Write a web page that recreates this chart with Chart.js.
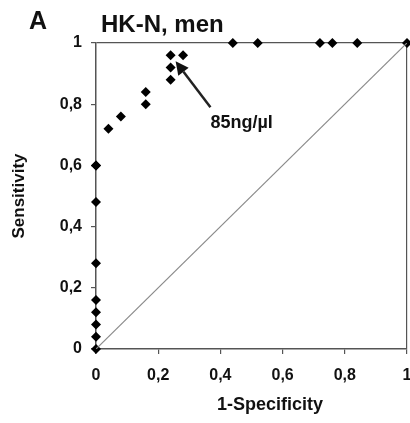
<!DOCTYPE html>
<html>
<head>
<meta charset="utf-8">
<script src="https://cdn.jsdelivr.net/npm/chart.js@4/dist/chart.umd.min.js"></script>
<style>
  html,body{margin:0;padding:0;background:#fff;}
  #wrap{position:relative;width:410px;height:423px;}
</style>
</head>
<body>
<div id="wrap"><canvas id="roc" width="410" height="423"></canvas></div>
<script>
// ===== DATA =====
const fpr = [0, 0, 0, 0, 0, 0, 0, 0, 0, 0.04, 0.08, 0.16, 0.16, 0.24, 0.24, 0.24, 0.28, 0.44, 0.52, 0.72, 0.76, 0.84, 1];
const sens = [0, 0.04, 0.08, 0.12, 0.16, 0.28, 0.48, 0.60, 0.60, 0.72, 0.76, 0.80, 0.84, 0.88, 0.92, 0.96, 0.96, 1, 1, 1, 1, 1, 1];
const diagX = [0, 1];
const diagY = [0, 1];
const ticksXY = [0, 0.2, 0.4, 0.6, 0.8, 1];

const panelLabel = 'A';
const chartTitle = 'HK-N, men';
const xTitle = '1-Specificity';
const cutoffLabel = '85ng/µl';
// arrow in data units: tail -> head, label anchor
const arrowFrom = {x: 0.368, y: 0.79};
const arrowTo = {x: 0.256, y: 0.94};
const labelAt = {x: 0.368, y: 0.738};

const FONT = "'Liberation Sans', Arial, sans-serif";
const AXIS = '#555';

function fmt(v){
  return String(Math.round(v*10)/10).replace('.', ',');
}

// ===== EXTRA TEXT + ARROW =====
const extras = {
  id: 'extras',
  afterDraw(chart){
    const c = chart.ctx;
    const xs = chart.scales.x, ys = chart.scales.y;
    c.save();
    c.fillStyle = '#111';
    c.textBaseline = 'middle';
    c.textAlign = 'left';
    c.font = 'bold 25px ' + FONT;
    c.fillText(panelLabel, 29, 22);
    c.font = 'bold 24px ' + FONT;
    c.fillText(chartTitle, 101, 25);

    // x axis title (sits right of centre in the original)
    c.textAlign = 'center';
    c.font = 'bold 18px ' + FONT;
    c.fillText(xTitle, 270, 405);
    c.textAlign = 'left';

    // arrow
    const x1 = xs.getPixelForValue(arrowFrom.x), y1 = ys.getPixelForValue(arrowFrom.y);
    const x2 = xs.getPixelForValue(arrowTo.x), y2 = ys.getPixelForValue(arrowTo.y);
    const ang = Math.atan2(y2 - y1, x2 - x1);
    const hl = 13, hw = 6.5;
    const bx = x2 - hl*Math.cos(ang), by = y2 - hl*Math.sin(ang);
    c.strokeStyle = '#222';
    c.lineWidth = 2.5;
    c.beginPath(); c.moveTo(x1, y1); c.lineTo(bx, by); c.stroke();
    c.fillStyle = '#111';
    c.beginPath();
    c.moveTo(x2, y2);
    c.lineTo(bx + hw*Math.sin(ang), by - hw*Math.cos(ang));
    c.lineTo(bx - hw*Math.sin(ang), by + hw*Math.cos(ang));
    c.closePath(); c.fill();

    c.font = 'bold 18px ' + FONT;
    c.fillText(cutoffLabel, xs.getPixelForValue(labelAt.x), ys.getPixelForValue(labelAt.y));
    c.restore();
  }
};

// ===== CHART =====
const gridColor = c => (c.tick && c.tick.value === 1) ? AXIS : 'rgba(0,0,0,0)';

new Chart(document.getElementById('roc'), {
  type: 'scatter',
  data: {
    datasets: [
      {
        type: 'line',
        data: diagX.map((x, i) => ({x: x, y: diagY[i]})),
        borderColor: '#8a8a8a',
        borderWidth: 1.2,
        pointRadius: 0,
        fill: false
      },
      {
        data: fpr.map((x, i) => ({x: x, y: sens[i]})),
        pointStyle: 'rectRot',
        pointRadius: 5,
        backgroundColor: '#000',
        borderColor: '#000',
        borderWidth: 0,
        clip: false
      }
    ]
  },
  options: {
    responsive: false,
    animation: false,
    layout: { padding: {top: 43, right: 3, left: 0, bottom: 0}, autoPadding: false },
    plugins: { legend: {display: false}, tooltip: {enabled: false} },
    scales: {
      x: {
        type: 'linear', min: 0, max: 1,
        afterFit: s => { s.height = 74; s.paddingLeft = 0; s.paddingRight = 0; },
        afterBuildTicks: s => { s.ticks = ticksXY.map(v => ({value: v})); },
        ticks: { callback: v => fmt(v), color: '#111', padding: 12, maxRotation: 0,
                 font: {family: FONT, size: 16, weight: 'bold'} },
        grid: { color: gridColor, tickColor: AXIS, tickLength: 5, lineWidth: 1.2 },
        border: { display: true, color: AXIS, width: 1.5 },
        title: { display: false }
      },
      y: {
        type: 'linear', min: 0, max: 1,
        afterFit: s => { s.width = 96; s.paddingTop = 0; s.paddingBottom = 0; },
        afterBuildTicks: s => { s.ticks = ticksXY.map(v => ({value: v})); },
        ticks: { callback: v => fmt(v), color: '#111', padding: 9,
                 font: {family: FONT, size: 16, weight: 'bold'} },
        grid: { color: gridColor, tickColor: AXIS, tickLength: 5, lineWidth: 1.2 },
        border: { display: true, color: AXIS, width: 1.5 },
        title: { display: true, text: 'Sensitivity', color: '#111',
                 font: {family: FONT, size: 17, weight: 'bold'}, padding: {top: 9, bottom: 0} }
      }
    }
  },
  plugins: [extras]
});
</script>
</body>
</html>
